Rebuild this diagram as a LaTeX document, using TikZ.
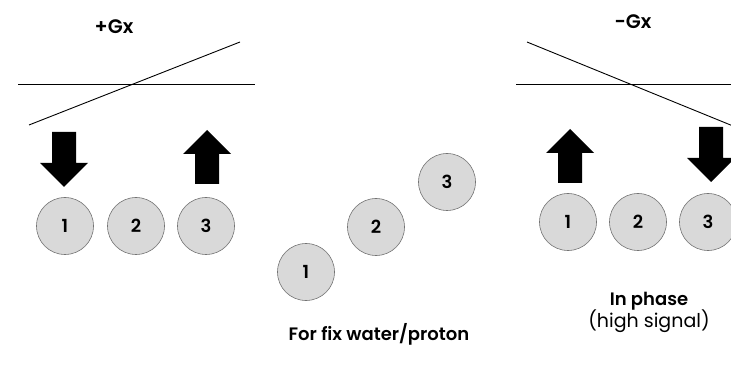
\documentclass[tikz,border=0pt]{standalone}
\usepackage{fontspec}
\setmainfont{Poppins}[BoldFont={Poppins SemiBold}]
\begin{document}
\begin{tikzpicture}[x=1pt,y=-1pt,
  spin/.style={circle,draw=black!55,fill=black!15,line width=0.6pt,minimum size=57pt,inner sep=0pt,font=\fontsize{18}{20}\selectfont\bfseries},
  lbl/.style={font=\fontsize{18}{20}\selectfont\bfseries,inner sep=0pt},
  glbl/.style={font=\fontsize{19.5}{22}\selectfont\bfseries,inner sep=0pt},
  sub/.style={font=\fontsize{19}{21}\selectfont,inner sep=0pt},
  grad/.style={line width=0.9pt,black}]
\clip (0,0) rectangle (731,366);
\fill[white] (0,0) rectangle (731,366);
% left panel
\node[glbl] (gp) at (114,27) {+Gx};
\coordinate (h1a) at (18,84); \coordinate (h1b) at (255,84);
\draw[grad] (h1a) -- (h1b);
\coordinate (d1a) at (29,125); \coordinate (d1b) at (240,42);
\draw[grad] (d1a) -- (d1b);
% down arrow left
\fill (52,132) -- (76,132) -- (76,163) -- (88,163) -- (64,187) -- (40,163) -- (52,163) -- cycle;
% up arrow left
\fill (195,184) -- (219,184) -- (219,154) -- (231,154) -- (207,130) -- (183,154) -- (195,154) -- cycle;
\node[spin] (l1) at (65,226) {1};
\node[spin] (l2) at (136,226) {2};
\node[spin] (l3) at (206,226) {3};
% middle
\node[spin] (m1) at (306,272) {1};
\node[spin] (m2) at (376,227) {2};
\node[spin] (m3) at (447,182) {3};
\node[lbl] (fix) at (379,334) {For fix water/proton};
% right panel
\node[glbl] (gm) at (633,22) {-Gx};
\coordinate (h2a) at (516,84); \coordinate (h2b) at (740,84);
\draw[grad] (h2a) -- (h2b);
\coordinate (d2a) at (527,42); \coordinate (d2b) at (760,137);
\draw[grad] (d2a) -- (d2b);
% up arrow right
\fill (558,183) -- (582,183) -- (582,153) -- (594,153) -- (570,129) -- (546,153) -- (558,153) -- cycle;
% down arrow right
\fill (699,127) -- (723,127) -- (723,158) -- (735,158) -- (711,182) -- (687,158) -- (699,158) -- cycle;
\node[spin] (r1) at (568,222) {1};
\node[spin] (r2) at (638,222) {2};
\node[spin] (r3) at (708,222) {3};
\node[lbl] (ph) at (649,301) {In phase};
\node[sub] (hs) at (649,321) {(high signal)};
\end{tikzpicture}
\end{document}
